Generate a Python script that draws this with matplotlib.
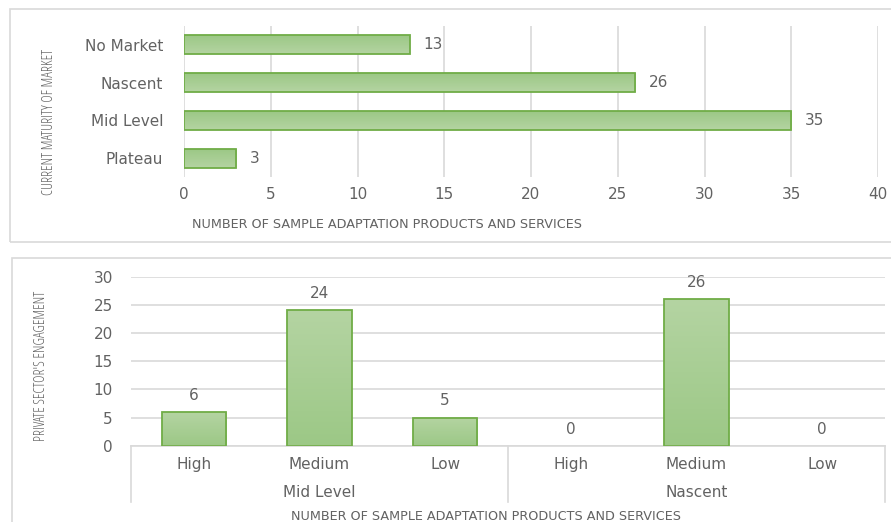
import matplotlib
matplotlib.use("Agg")
import matplotlib.pyplot as plt
import numpy as np
from matplotlib.patches import Rectangle
from matplotlib.lines import Line2D
from matplotlib.colors import LinearSegmentedColormap

# ---------------- data ----------------
maturity_cats = ["No Market", "Nascent", "Mid Level", "Plateau"]
maturity_vals = [13, 26, 35, 3]
top_xticks = [0, 5, 10, 15, 20, 25, 30, 35, 40]

engage_cats = ["High", "Medium", "Low", "High", "Medium", "Low"]
engage_groups = ["Mid Level", "Nascent"]
engage_vals = [6, 24, 5, 0, 26, 0]
bottom_yticks = [0, 5, 10, 15, 20, 25, 30]

top_xlabel = "NUMBER OF SAMPLE ADAPTATION PRODUCTS AND SERVICES"
top_ylabel = "CURRENT MATURITY OF MARKET"
bot_xlabel = "NUMBER OF SAMPLE ADAPTATION PRODUCTS AND SERVICES"
bot_ylabel = "PRIVATE SECTOR'S ENGAGEMENT"

# ---------------- style ----------------
W, H = 891, 522
TXT = "#626262"
GRID = "#d9d9d9"
EDGE = "#70ad47"
cmap = LinearSegmentedColormap.from_list("g", ["#b4d4a2", "#9cc886"])
FONT = "DejaVu Sans"
TICK_FS = 11.0
TITLE_FONT = "DejaVu Sans"
TITLE_FS = 9.2
YL_FONT = "Open Sans"
YL_FS = 10.3

fig = plt.figure(figsize=(W / 100, H / 100), dpi=100)
fig.patch.set_facecolor("white")

def fx(px):
    return px / W

def fy(py):
    return 1 - py / H

# panel borders
fig.patches.append(Rectangle((fx(10), fy(242)), fx(900) - fx(10), fy(9) - fy(242),
                             transform=fig.transFigure, fill=False, edgecolor="#d9d9d9", lw=1.2))
fig.patches.append(Rectangle((fx(12), fy(540)), fx(900) - fx(12), fy(258) - fy(540),
                             transform=fig.transFigure, fill=False, edgecolor="#d9d9d9", lw=1.2))

def gradient_fill(ax, bars):
    grad = np.linspace(0, 1, 64).reshape(-1, 1)
    for b in bars:
        x0, y0 = b.get_x(), b.get_y()
        w, h = b.get_width(), b.get_height()
        if w == 0 or h == 0:
            b.set_edgecolor("none")
            continue
        im = ax.imshow(grad, cmap=cmap, aspect="auto", origin="upper",
                       extent=(x0, x0 + w, y0, y0 + h), zorder=2, interpolation="bilinear")
        im.set_clip_path(b)

# ---------------- top chart ----------------
ax1 = fig.add_axes([fx(184), fy(177), fx(878) - fx(184), fy(26) - fy(177)])
ypos = np.arange(len(maturity_cats))
bars1 = ax1.barh(ypos, maturity_vals, height=0.5, facecolor="none",
                 edgecolor=EDGE, linewidth=1.3, zorder=3)
gradient_fill(ax1, bars1)
ax1.set_xlim(0, 40)
ax1.set_ylim(len(maturity_cats) - 0.5, -0.5)
ax1.set_xticks(top_xticks)
ax1.set_yticks(ypos)
ax1.set_yticklabels(maturity_cats)
ax1.grid(axis="x", color=GRID, lw=1.2, zorder=0)
ax1.set_axisbelow(True)
for s in ax1.spines.values():
    s.set_visible(False)
ax1.tick_params(axis="both", length=0, colors=TXT, labelsize=TICK_FS)
ax1.tick_params(axis="y", pad=15)
ax1.tick_params(axis="x", pad=7)
for lab in ax1.get_xticklabels() + ax1.get_yticklabels():
    lab.set_fontfamily(FONT)
for v, yy in zip(maturity_vals, ypos):
    ax1.annotate(str(v), (v, yy), xytext=(10, 0), textcoords="offset points",
                 ha="left", va="center", color=TXT, fontsize=TICK_FS, family=FONT)
fig.text(fx(387), fy(224), top_xlabel, ha="center", va="center", color=TXT,
         fontsize=TITLE_FS, family=TITLE_FONT)
fig.text(fx(50), fy(122), top_ylabel, ha="center", va="center", rotation=90,
         color=TXT, fontsize=YL_FS, family=YL_FONT, fontstretch="condensed")

# ---------------- bottom chart ----------------
ax2 = fig.add_axes([fx(131), fy(445.7), fx(885) - fx(131), fy(276.7) - fy(445.7)])
xpos = np.arange(len(engage_cats))
bars2 = ax2.bar(xpos, engage_vals, width=0.51, facecolor="none",
                edgecolor=EDGE, linewidth=1.3, zorder=3)
gradient_fill(ax2, bars2)
ax2.set_xlim(-0.5, len(engage_cats) - 0.5)
ax2.set_ylim(0, 30)
ax2.set_yticks(bottom_yticks)
ax2.set_xticks(xpos)
ax2.set_xticklabels(engage_cats)
ax2.grid(axis="y", color=GRID, lw=1.2, zorder=0)
ax2.set_axisbelow(True)
for k in ["top", "right", "left"]:
    ax2.spines[k].set_visible(False)
ax2.spines["bottom"].set_color(GRID)
ax2.spines["bottom"].set_linewidth(1.2)
ax2.tick_params(axis="both", length=0, colors=TXT, labelsize=TICK_FS)
ax2.tick_params(axis="y", pad=13)
ax2.tick_params(axis="x", pad=8)
for lab in ax2.get_xticklabels() + ax2.get_yticklabels():
    lab.set_fontfamily(FONT)
for v, xx in zip(engage_vals, xpos):
    ax2.annotate(str(v), (xx, v), xytext=(0, 12), textcoords="offset points",
                 ha="center", va="center", color=TXT, fontsize=TICK_FS, family=FONT)

# group separators and labels
sep_bottom = -(502 - 445.7) / (445.7 - 276.7)
ngroups = len(engage_groups)
per = len(engage_cats) // ngroups
trans = ax2.get_xaxis_transform()
for g in range(ngroups + 1):
    xline = g * per - 0.5
    ax2.add_line(Line2D([xline, xline], [0, sep_bottom], transform=trans,
                        color=GRID, lw=1.2, clip_on=False))
for g, name in enumerate(engage_groups):
    xc = g * per + (per - 1) / 2
    ax2.text(xc, -(492.7 - 445.7) / (445.7 - 276.7), name, transform=trans,
             ha="center", va="center", color=TXT, fontsize=TICK_FS, family=FONT)

fig.text(fx(486), fy(516), bot_xlabel, ha="center", va="center", color=TXT,
         fontsize=TITLE_FS, family=TITLE_FONT)
fig.text(fx(42), fy(366), bot_ylabel, ha="center", va="center", rotation=90,
         color=TXT, fontsize=YL_FS, family=YL_FONT, fontstretch="condensed")

fig.savefig("out.png", dpi=100, facecolor="white")
